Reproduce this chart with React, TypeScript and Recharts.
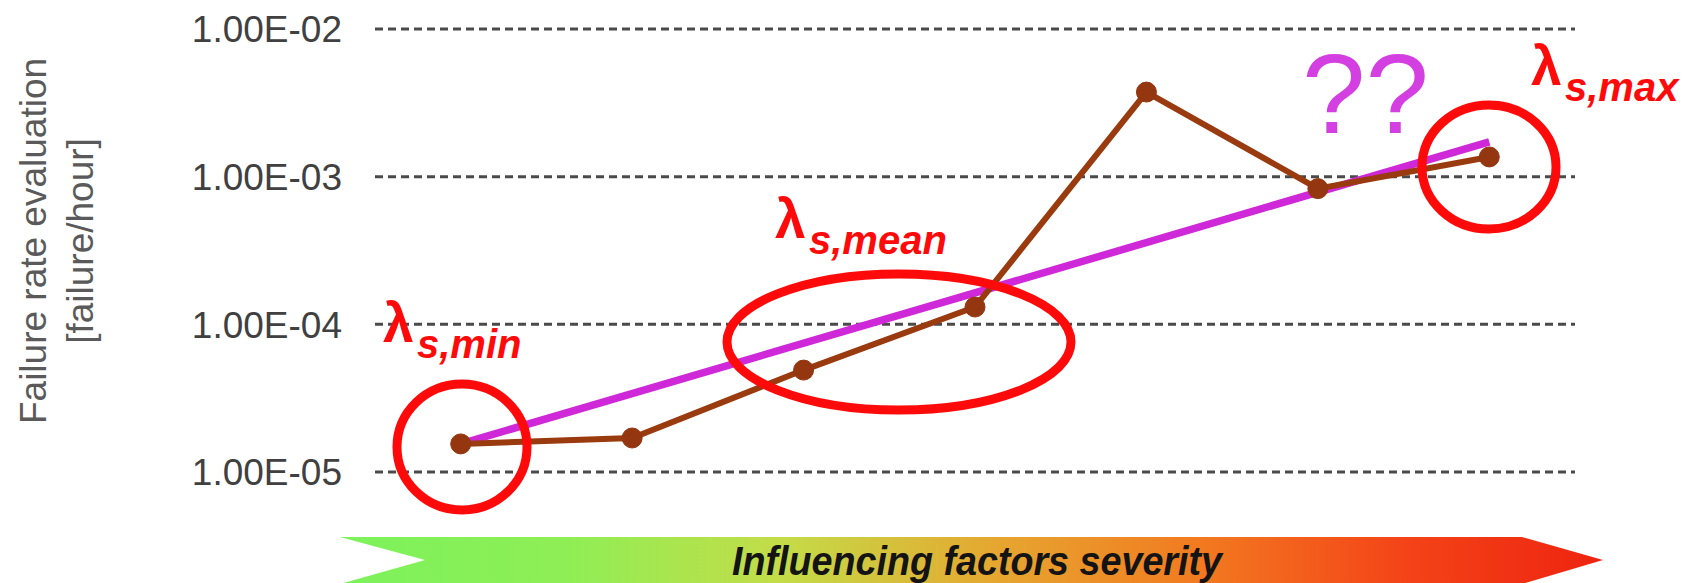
import React from 'react';
import { ComposedChart, Line, XAxis, YAxis, CartesianGrid } from 'recharts';

// Influencing-factor severity levels (x categories, ordered from low to high severity)
const severityLevels = [1, 2, 3, 4, 5, 6, 7];
// Evaluated failure rates [failure/hour]
const failureRates = [1.55e-5, 1.7e-5, 4.9e-5, 1.31e-4, 3.74e-3, 8.3e-4, 1.36e-3];
// Exponential trend (straight on the log axis) drawn between the first and last level
const trendRates: (number | null)[] = [1.55e-5, null, null, null, null, null, 1.72e-3];
// Y axis ticks and their labels
const yTicks = [1e-5, 1e-4, 1e-3, 1e-2];
const yTickLabels = ['1.00E-05', '1.00E-04', '1.00E-03', '1.00E-02'];

const data = severityLevels.map((lvl, i) => ({
  level: lvl,
  rate: failureRates[i],
  trend: trendRates[i],
}));

const FONT = '"Liberation Sans", Arial, sans-serif';
const BROWN = '#9a3a0f';
const MAGENTA = '#cf28d8';
const RED = '#ff0a0a';

const YTick = (props: any) => {
  const { x, y, payload } = props;
  let idx = 0;
  let best = Infinity;
  yTicks.forEach((t, i) => {
    const d = Math.abs(Math.log10(t) - Math.log10(payload.value));
    if (d < best) {
      best = d;
      idx = i;
    }
  });
  return (
    <text x={x} y={y} dy="0.36em" textAnchor="end" fontSize={37} fill="#404040" fontFamily={FONT}>
      {yTickLabels[idx]}
    </text>
  );
};

const Lambda = ({ x, y, sub }: { x: number; y: number; sub: string }) => (
  <g fill={RED} fontFamily={FONT} fontWeight="bold">
    <text x={x} y={y} fontSize={55}>λ</text>
    <text x={x + 34} y={y + 16} fontSize={40} fontStyle="italic">{sub}</text>
  </g>
);

export default function App() {
  return (
    <div style={{ position: 'absolute', left: 0, top: 0, width: 1697, height: 583, background: '#fff', overflow: 'hidden' }}>
      <ComposedChart
        width={1697}
        height={583}
        data={data}
        margin={{ top: 29, right: 122, bottom: 111, left: 0 }}
      >
        <CartesianGrid horizontal vertical={false} stroke="#4a4a4a" strokeWidth={3} strokeDasharray="8 5" />
        <XAxis dataKey="level" type="number" domain={[0.5, 7.5]} hide />
        <YAxis
          type="number"
          scale="log"
          domain={[1e-5, 1e-2]}
          ticks={yTicks}
          interval={0}
          allowDataOverflow
          width={375}
          tickSize={0}
          tickMargin={33}
          axisLine={false}
          tickLine={false}
          tick={<YTick />}
        />
        <Line
          dataKey="trend"
          connectNulls
          stroke={MAGENTA}
          strokeWidth={7.5}
          dot={false}
          activeDot={false}
          isAnimationActive={false}
        />
        <Line
          dataKey="rate"
          stroke={BROWN}
          strokeWidth={6}
          dot={{ r: 10, fill: '#943610', stroke: '#943610', strokeWidth: 1 }}
          activeDot={false}
          isAnimationActive={false}
        />
      </ComposedChart>
      <svg
        width={1697}
        height={583}
        style={{ position: 'absolute', left: 0, top: 0, pointerEvents: 'none' }}
      >
        <defs>
          <linearGradient id="sev" x1="0" y1="0" x2="1" y2="0">
            <stop offset="0" stopColor="#7cf25c" />
            <stop offset="0.18" stopColor="#8fee55" />
            <stop offset="0.35" stopColor="#c4dc48" />
            <stop offset="0.52" stopColor="#e6a630" />
            <stop offset="0.68" stopColor="#f27a20" />
            <stop offset="0.84" stopColor="#f44418" />
            <stop offset="1" stopColor="#ee2410" />
          </linearGradient>
        </defs>
        {/* y axis title */}
        <g fill="#5a5a5a" fontFamily={FONT} fontSize={37} textAnchor="middle">
          <text transform="translate(46,241) rotate(-90)">Failure rate evaluation</text>
          <text transform="translate(93,241) rotate(-90)">[failure/hour]</text>
        </g>
        {/* severity arrow */}
        <polygon points="340,537 1522,537 1603,560 1522,584 340,584 425,560" fill="url(#sev)" />
        <text
          x={977}
          y={575}
          textAnchor="middle"
          fontFamily={FONT}
          fontSize={40}
          fontWeight="bold"
          fontStyle="italic"
          fill="#141414"
          textLength={490}
          lengthAdjust="spacingAndGlyphs"
        >
          Influencing factors severity
        </text>
        {/* highlight ellipses */}
        <g fill="none" stroke={RED} strokeWidth={9}>
          <ellipse cx={462} cy={447} rx={65} ry={63} />
          <ellipse cx={899} cy={342} rx={172} ry={68} />
          <ellipse cx={1489} cy={167} rx={67} ry={62} />
        </g>
        <Lambda x={383} y={342} sub="s,min" />
        <Lambda x={775} y={238} sub="s,mean" />
        <Lambda x={1531} y={85} sub="s,max" />
        <text x={1302} y={133} fontFamily={FONT} fontSize={114} fill="#d43fe2">??</text>
      </svg>
    </div>
  );
}
